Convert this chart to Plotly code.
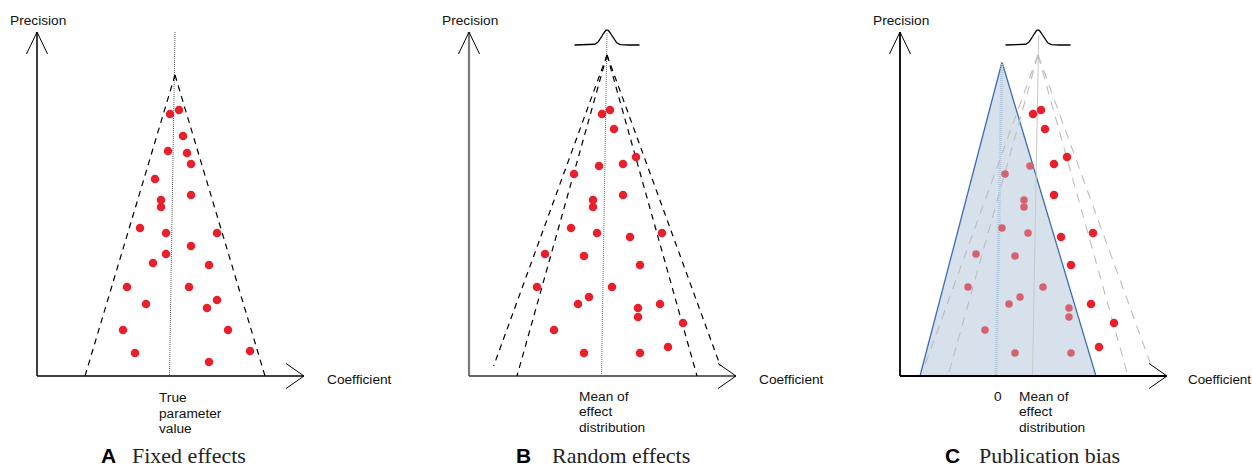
import numpy as np
import plotly.graph_objects as go

# ---- study estimates (coefficient, precision) ----
fe_coef = [13.3, 14.2, 14.6, 13.1, 15.0, 15.4, 11.8, 15.4, 12.4, 12.4, 10.3, 12.9, 18.0, 15.4,
           12.9, 11.6, 17.2, 9.0, 15.2, 10.9, 18.0, 17.0, 8.6, 19.1, 9.8, 21.3, 17.2]
fe_prec = [26.2, 26.6, 24.0, 22.5, 22.3, 21.2, 19.7, 18.1, 17.6, 16.9, 14.8, 14.3, 14.3, 13.0,
           12.2, 11.3, 11.1, 8.9, 8.9, 7.2, 7.6, 6.8, 4.6, 4.6, 2.3, 2.5, 1.4]

re_coef = [13.3, 14.1, 14.5, 16.7, 13.0, 15.4, 10.5, 15.4, 12.4, 12.4, 10.2, 12.8, 16.1, 19.3,
           7.6, 11.5, 17.1, 6.8, 14.3, 12.0, 10.9, 16.9, 19.1, 16.9, 21.4, 8.5, 11.5, 17.1, 19.9]
re_prec = [26.2, 26.6, 24.7, 21.9, 21.0, 21.2, 20.2, 18.1, 17.6, 16.9, 14.8, 14.3, 13.9, 14.3,
           12.2, 12.0, 11.1, 8.9, 8.9, 7.9, 7.2, 6.8, 7.2, 5.9, 5.3, 4.6, 2.3, 2.3, 2.9]

# ---- schematic parameters ----
center_top, center_bottom = 13.8, 13.25      # true value / mean effect line
fe_apex = 30.1                               # funnel apex (fixed effects)
re_apex = 32.1                               # funnel apex (random effects)
half_inner, half_outer = 9.0, 11.7           # funnel half-widths at precision 0
outer_stop = 1.0
zero_top, zero_bottom = 10.2, 9.6            # zero-effect line
tri_apex, tri_left, tri_right = 31.4, 2.0, 19.6
dens_mean, dens_sd, dens_base, dens_height, dens_span = 13.8, 0.5, 33.1, 1.5, 3.25
x_len, y_len = 26.7, 34.4                    # axis arrow tips

RED = "#e9202b"
FADED = "#d6616f"
SANS = "Liberation Sans, Arial, sans-serif"
SERIF = "Liberation Serif, Times New Roman, serif"
LABEL_SIZE = 13.7

W, H = 1252, 467
fig = go.Figure()

panels = [("x", "y"), ("x2", "y2"), ("x3", "y3")]


def line(panel, xs, ys, color="black", width=1.2, dash=None, fill=None, fillcolor=None):
    xa, ya = panels[panel]
    fig.add_trace(go.Scatter(
        x=xs, y=ys, mode="lines", xaxis=xa, yaxis=ya, hoverinfo="skip", showlegend=False,
        line=dict(color=color, width=width, dash=dash),
        fill=fill, fillcolor=fillcolor))


def axes_arrows(panel, color_y, color_x, wy, wx):
    line(panel, [0, 0], [0, y_len], color=color_y, width=wy)
    line(panel, [0, x_len], [0, 0], color=color_x, width=wx)
    line(panel, [-1.05, 0, 1.05], [y_len - 2.2, y_len, y_len - 2.2], color="black", width=1)
    line(panel, [x_len - 1.8, x_len, x_len - 1.8], [1.25, 0, -1.25], color="black", width=1)


def density(panel):
    xs = np.linspace(dens_mean - dens_span, dens_mean + dens_span, 120)
    ys = dens_base + dens_height * np.exp(-0.5 * ((xs - dens_mean) / dens_sd) ** 2)
    line(panel, xs, ys, color="black", width=1.3)


def funnel(panel, apex, half, stop, color, dash, width):
    for s in (-1, 1):
        xb = center_top + s * half
        # point on the funnel edge at precision `stop`
        t = (apex - stop) / apex
        xe = center_top + (xb - center_top) * t
        line(panel, [center_top, xe], [apex, stop], color=color, width=width, dash=dash)


def studies(panel, xs, ys, colors, sizes):
    xa, ya = panels[panel]
    fig.add_trace(go.Scatter(x=xs, y=ys, mode="markers", xaxis=xa, yaxis=ya,
                             marker=dict(color=colors, size=sizes, opacity=1,
                                         line=dict(width=0)),
                             hoverinfo="skip", showlegend=False))


# ---------------- A: fixed effects ----------------
axes_arrows(0, "black", "black", 1.5, 1.5)
line(0, [center_top, center_bottom], [y_len, 0], color="#555", width=1, dash="1px,1px")
funnel(0, fe_apex, half_inner, 0, "black", "6px,5px", 1.2)
studies(0, fe_coef, fe_prec, RED, 8.5)

# ---------------- B: random effects ----------------
axes_arrows(1, "#7a7a7a", "#333", 2.2, 1.5)
density(1)
line(1, [center_top, center_bottom], [y_len - 0.1, 0], color="#666", width=1, dash="1px,1px")
funnel(1, re_apex, half_inner, 0, "black", "6px,5px", 1.2)
funnel(1, re_apex, half_outer, outer_stop, "black", "6px,5px", 1.2)
studies(1, re_coef, re_prec, RED, 8.5)

# ---------------- C: publication bias ----------------
line(2, [tri_left, tri_right, zero_top, tri_left], [0, 0, tri_apex, 0],
     color="#3d6cb5", width=1.3, fill="toself", fillcolor="#d7e1eb")
line(2, [zero_top, zero_bottom], [tri_apex, 0], color="#b3c6dc", width=3, dash="1px,1px")
line(2, [center_top + 0.07, center_bottom], [y_len - 0.3, 0], color="#c8c8c8", width=1)
funnel(2, re_apex, half_inner, 0, "#bdbdbd", "9px,7px", 1.1)
funnel(2, re_apex, half_outer, outer_stop, "#bdbdbd", "9px,7px", 1.1)
axes_arrows(2, "black", "black", 1.8, 1.8)
density(2)


def inside_triangle(c, p):
    left = tri_left + p * (zero_top - tri_left) / tri_apex
    right = tri_right - p * (tri_right - zero_top) / tri_apex
    return left <= c <= right


inside = [inside_triangle(c, p) for c, p in zip(re_coef, re_prec)]
studies(2, re_coef, re_prec,
        [FADED if i else RED for i in inside],
        [7.5 if i else 8.5 for i in inside])

# ---------------- text ----------------
ann = []


def text(panel, x, y, s, xanchor="left", size=LABEL_SIZE):
    xa, ya = panels[panel]
    ann.append(dict(x=x, y=y, xref=xa, yref=ya, text=s, showarrow=False, xanchor=xanchor,
                    yanchor="middle", font=dict(family=SANS, size=size, color="#111")))


for k in range(3):
    text(k, 0.12, 35.6, "Precision", xanchor="center")
text(0, 28.8, -0.35, "Coefficient")
text(1, 28.8, -0.35, "Coefficient")
text(2, 28.55, -0.35, "Coefficient", size=13.4)

for i, s in enumerate(["True", "parameter", "value"]):
    text(0, 12.0, -2.15 - 1.55 * i, s)
for i, s in enumerate(["Mean of", "effect", "distribution"]):
    text(1, 10.8, -2.0 - 1.55 * i, s)
    text(2, 11.7, -2.0 - 1.55 * i, s)
text(2, 9.8, -2.0, "0", xanchor="center")

# panel captions along the bottom edge
cap_y = 1 - 455.5 / H
captions = [("A", "Fixed effects", 99, 130), ("B", "Random effects", 514, 550),
            ("C", "Publication bias", 943, 977)]
for letter, title, xl, xt in captions:
    ann.append(dict(x=xl / W, y=cap_y, xref="paper", yref="paper", text=f"<b>{letter}</b>",
                    showarrow=False, xanchor="left", yanchor="middle",
                    font=dict(family=SANS, size=21, color="black")))
    ann.append(dict(x=xt / W, y=cap_y, xref="paper", yref="paper", text=title,
                    showarrow=False, xanchor="left", yanchor="middle",
                    font=dict(family=SERIF, size=22, color="#222")))

hidden = dict(visible=False, showgrid=False, zeroline=False, fixedrange=True)
yr = [-9.1, 37.6]
fig.update_layout(
    width=W, height=H, autosize=False,
    margin=dict(l=0, r=0, t=0, b=0, pad=0),
    paper_bgcolor="white", plot_bgcolor="white",
    annotations=ann,
    xaxis=dict(domain=[0, 420 / W], range=[-3.7, 38.3], **hidden),
    xaxis2=dict(domain=[420 / W, 840 / W], range=[-4.9, 37.1], **hidden),
    xaxis3=dict(domain=[840 / W, 1], range=[-6.0, 35.2], **hidden),
    yaxis=dict(domain=[0, 1], range=yr, anchor="x", **hidden),
    yaxis2=dict(domain=[0, 1], range=yr, anchor="x2", **hidden),
    yaxis3=dict(domain=[0, 1], range=yr, anchor="x3", **hidden),
)

fig.write_html("out.html", config={"displayModeBar": False})
